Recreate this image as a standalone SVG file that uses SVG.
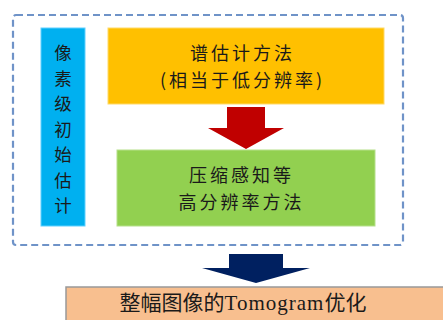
<svg xmlns="http://www.w3.org/2000/svg" width="443" height="320" viewBox="0 0 443 320">
<style>
.t{font-family:"Noto Sans CJK SC","Liberation Serif",serif;font-size:21px;fill:#1a1a1a;text-anchor:middle}
.c{font-size:17.5px}
.m{font-size:18px;letter-spacing:3px}
</style>
<rect width="443" height="320" fill="#fff"/>
<g id="frame"><rect x="13" y="15" width="390" height="230" rx="3" fill="none" stroke="#6f93c8" stroke-width="2.2" stroke-dasharray="7,4"/></g>
<g id="pixel"><rect x="41" y="28" width="44" height="198" fill="#00b0f0" stroke="#5fd0ff" stroke-width="1"/>
<text class="t c" x="63" y="59">像</text><text class="t c" x="63" y="85">素</text><text class="t c" x="63" y="110">级</text><text class="t c" x="63" y="136">初</text><text class="t c" x="63" y="161">始</text><text class="t c" x="63" y="187">估</text><text class="t c" x="63" y="212">计</text></g>
<g id="spectral"><rect x="108" y="28" width="276" height="76" fill="#ffc000" stroke="#ffd966" stroke-width="1"/>
<text class="t m" x="242.5" y="60">谱估计方法</text><text class="t m" x="242.5" y="87">(相当于低分辨率)</text></g>
<g id="cs"><rect x="117" y="150" width="258" height="76" fill="#92d050" stroke="#b5e08a" stroke-width="1"/>
<text class="t m" x="241.5" y="182">压缩感知等</text><text class="t m" x="241.5" y="209">高分辨率方法</text></g>
<g id="tomo"><rect x="66" y="287" width="380" height="40" fill="#f8bf8f" stroke="#999" stroke-width="1.5"/>
<text class="t" x="243" y="310">整幅图像的<tspan font-family="Liberation Serif" letter-spacing="1">Tomogram</tspan>优化</text></g>
<g id="connectors">
<polygon points="227,107 265,107 265,128 284,128 246,149 208,128 227,128" fill="#c00000"/>
<polygon points="229,254 283,254 283,268 310,268 256,283 202,268 229,268" fill="#002060"/>
</g>
</svg>
